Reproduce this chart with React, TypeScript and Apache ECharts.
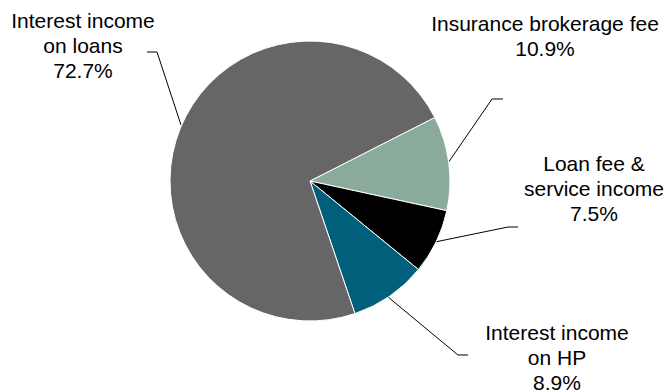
import React, { useEffect, useRef } from "react";
import * as echarts from "echarts";

const categories = [
  "Insurance brokerage fee",
  "Loan fee &\nservice income",
  "Interest income\non HP",
  "Interest income\non loans",
];
const values = [10.9, 7.5, 8.9, 72.7];
const colors = ["#8aab9c", "#000000", "#005f7a", "#666666"];

// label layout (positions only)
const labelPos = [
  { x: 545, y: 36, line: [[448, 163], [492, 99], [503, 99]] },
  { x: 594, y: 188, line: [[435, 242], [508, 227], [518, 227]] },
  { x: 557, y: 357, line: [[388, 297], [458, 355], [468, 355]] },
  { x: 83, y: 45, line: [[181, 125], [157, 52], [147, 52]] },
];

export default function App() {
  const ref = useRef<HTMLDivElement>(null);
  useEffect(() => {
    document.body.style.margin = "0";
    const chart = echarts.init(ref.current!, null, { renderer: "svg" });
    chart.setOption({
      animation: false,
      backgroundColor: "#ffffff",
      series: [
        {
          type: "pie",
          center: [310, 181],
          radius: 140,
          startAngle: 27,
          clockwise: true,
          avoidLabelOverlap: false,
          itemStyle: { borderColor: "#ffffff", borderWidth: 1 },
          label: {
            show: true,
            position: "outside",
            color: "#000000",
            fontFamily: "Liberation Sans, Arial, sans-serif",
            fontSize: 21,
            lineHeight: 25,
            align: "center",
            formatter: (p: any) => `${p.name}\n${Number(p.value).toFixed(1)}%`,
          },
          labelLine: {
            show: true,
            lineStyle: { color: "#000000", width: 1 },
          },
          labelLayout: (params: any) => {
            const l = labelPos[params.dataIndex];
            return {
              x: l.x,
              y: l.y,
              align: "center",
              verticalAlign: "middle",
              labelLinePoints: l.line,
            };
          },
          emphasis: { disabled: true },
          data: categories.map((name, i) => ({
            name,
            value: values[i],
            itemStyle: { color: colors[i] },
          })),
        },
      ],
    });
    return () => chart.dispose();
  }, []);
  return <div ref={ref} style={{ width: 669, height: 392 }} />;
}
